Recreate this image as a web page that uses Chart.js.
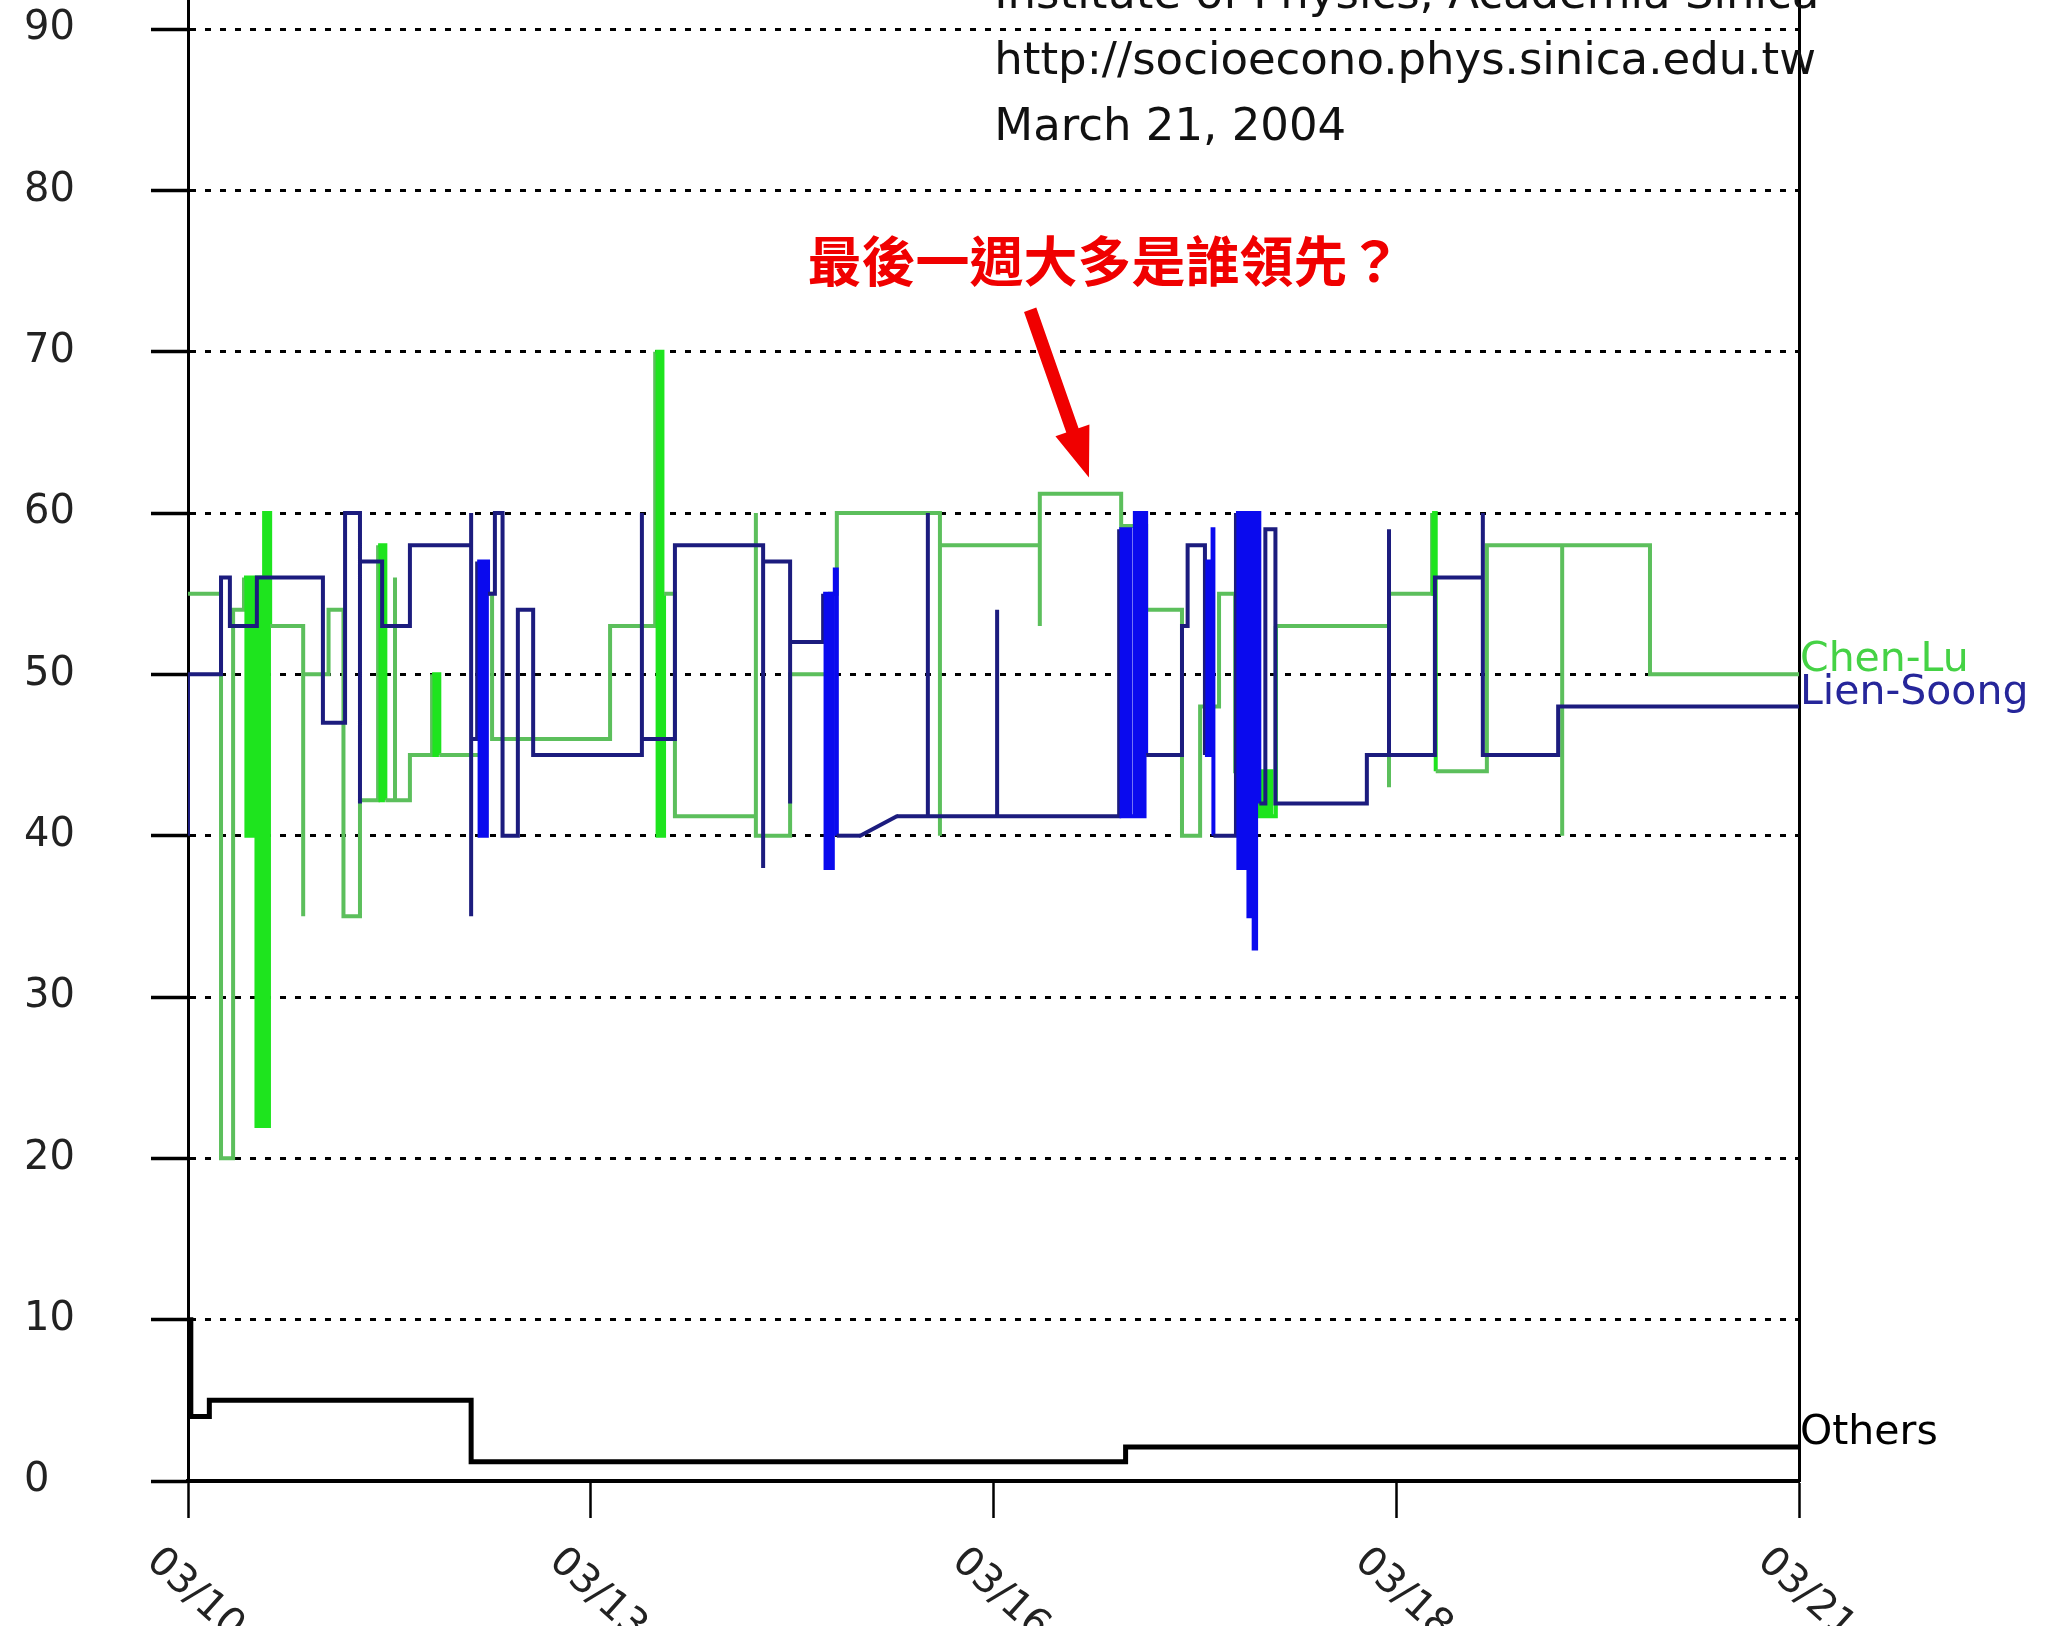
<!DOCTYPE html>
<html>
<head>
<meta charset="utf-8">
<script src="https://cdn.jsdelivr.net/npm/chart.js@4/dist/chart.umd.min.js"></script>
<style>
  html, body { margin: 0; padding: 0; background: #ffffff; overflow: hidden; }
  canvas { display: block; }
</style>
</head>
<body>
<canvas id="c" width="2052" height="1626"></canvas>
<script>
// ---------- data (x in tick-interval units: 0 = 03/10 ... 4 = 03/21) ----------
const xTickValues = [0, 1, 2, 3, 4];
const xTickLabels = ['03/10', '03/13', '03/16', '03/18', '03/21'];
const yTickValues = [0, 10, 20, 30, 40, 50, 60, 70, 80, 90];

const lienSoongX = [0, 0, 0.082, 0.104, 0.171, 0.335, 0.390, 0.427, 0.427, 0.482, 0.551,
  0.703, 0.703, 0.703, 0.718, 0.724, 0.730, 0.736, 0.742, 0.745, 0.762, 0.781, 0.819, 0.857,
  1.127, 1.127, 1.209, 1.428, 1.428, 1.495, 1.495,
  1.577, 1.583, 1.589, 1.595, 1.601, 1.606, 1.611, 1.669, 1.669, 1.760,
  1.837, 1.837, 2.009, 2.009,
  2.312, 2.318, 2.324, 2.330, 2.337, 2.340, 2.351, 2.357, 2.363, 2.369, 2.375, 2.379,
  2.468, 2.482, 2.525, 2.531, 2.538, 2.544, 2.546,
  2.602, 2.608, 2.614, 2.621, 2.627, 2.633, 2.639, 2.646, 2.652, 2.660, 2.675, 2.700,
  2.927, 2.982, 2.982, 3.096, 3.215, 3.215, 3.402, 4];
const lienSoongY = [40, 50, 56, 53, 56, 47, 60, 42, 57, 53, 58,
  60, 35, 46, 57, 40, 57, 40, 57, 55, 60, 40, 54, 45,
  60, 46, 58, 38, 57, 42, 52,
  55, 38, 55, 38, 55, 56.5, 40, 40, null, 41.2,
  60, 41.2, 54, 41.2,
  59, 41.2, 59, 41.2, 59, 41.2, 60, 41.2, 60, 41.2, 60, 45,
  53, 58, 45, 57, 45, 59, 40,
  60, 38, 60, 38, 60, 35, 60, 33, 60, 42, 59, 42,
  45, 59, 45, 56, 60, 45, 48, 48];
// short linear ramp in the Lien-Soong curve (between two polls)
const lienSoongRampX = [1.669, 1.760];
const lienSoongRampY = [40, 41.2];

const chenLuX = [0, 0.082, 0.112, 0.139, 0.145, 0.151, 0.158, 0.164, 0.170, 0.176, 0.182,
  0.189, 0.195, 0.201, 0.204, 0.286, 0.286, 0.349, 0.386, 0.427,
  0.472, 0.478, 0.484, 0.490, 0.514, 0.514, 0.551, 0.606, 0.612, 0.618, 0.624,
  0.740, 0.755, 1.048, 1.160, 1.166, 1.172, 1.178, 1.182, 1.209,
  1.410, 1.410, 1.495, 1.594, 1.611, 1.867, 1.867, 2.115, 2.115, 2.317, 2.379,
  2.468, 2.513, 2.560, 2.600, 2.649, 2.657, 2.664, 2.672, 2.679, 2.687, 2.690, 2.701,
  2.982, 2.982, 3.089, 3.092, 3.095, 3.098, 3.225, 3.412, 3.412, 3.630, 4];
const chenLuY = [55, 20, 54, 56, 40, 56, 40, 56, 22, 56, 22,
  60, 22, 60, 53, 35, 50, 54, 35, 42.2,
  58, 42.2, 58, 42.2, 56, 42.2, 45, 50, 45, 50, 45,
  55, 46, 53, 70, 40, 70, 40, 55, 41.2,
  60, 40, 50, 55, 60, 40, 58, 53, 61.2, 59.2, 54,
  40, 48, 55, 44, 41.2, 44, 41.2, 44, 41.2, 44, 41.2, 53,
  43, 55, 60, 55, 60, 44, 58, 40, 58, 50, 50];

const othersX = [0, 0.007, 0.053, 0.703, 2.328, 4];
const othersY = [10, 4, 5, 1.2, 2.1, 2.1];

const seriesNames = ['Lien-Soong', 'Chen-Lu', 'Others'];

const headerLines = ['Institute of Physics, Academia Sinica', 'http://socioecono.phys.sinica.edu.tw', 'March 21, 2004'];
const headerX = 2.002;
const headerY = [91.3, 87.2, 83.1];
const questionText = '最後一週大多是誰領先？';
const questionX = 1.538;
const questionY = 75.6;
const arrowFrom = { x: 2.091, y: 72.6 };
const arrowTo = { x: 2.237, y: 62.2 };

// ---------- styles ----------
const BLUE_THIN = '#1c1c7e';
const BLUE_DENSE = '#0a0aee';
const GREEN_THIN = '#5cbf5c';
const GREEN_DENSE = '#1ee41e';
const FONT = '"DejaVu Sans", sans-serif';
const LINE_W = 4;

function toPoints(xs, ys) { return xs.map((x, i) => ({ x: x, y: ys[i] })); }
function denseColor(thin, dense) {
  return ctx => {
    const dx = Math.abs(ctx.p1.x - ctx.p0.x);
    return (dx > 0 && dx <= 5) ? dense : thin;
  };
}

const overlay = {
  id: 'overlay',
  afterDraw(chart) {
    const { ctx, chartArea, scales } = chart;
    const xs = scales.x, ys = scales.y;
    ctx.save();

    // rotated x tick labels
    ctx.font = '40px ' + FONT;
    ctx.fillStyle = '#222';
    ctx.textAlign = 'left';
    ctx.textBaseline = 'middle';
    xTickValues.forEach((v, i) => {
      const px = xs.getPixelForValue(v);
      ctx.save();
      ctx.translate(px - 36, chartArea.bottom + 75);
      ctx.rotate(42 * Math.PI / 180);
      ctx.fillText(xTickLabels[i], 0, 0);
      ctx.restore();
    });

    // series end labels
    const labelColors = ['#26269a', '#45d245', '#000000'];
    const order = [1, 0, 2];
    ctx.font = '41px ' + FONT;
    ctx.textBaseline = 'alphabetic';
    order.forEach(di => {
      const meta = chart.getDatasetMeta(di);
      const last = meta.data[meta.data.length - 1];
      ctx.fillStyle = labelColors[di];
      ctx.fillText(seriesNames[di], chartArea.right + 1, last.y - 3);
    });

    // header text
    ctx.font = '45px ' + FONT;
    ctx.fillStyle = '#111';
    headerLines.forEach((t, i) => {
      ctx.fillText(t, xs.getPixelForValue(headerX), ys.getPixelForValue(headerY[i]));
    });

    // question annotation
    ctx.font = 'bold 54px "Noto Sans CJK TC", sans-serif';
    ctx.fillStyle = '#f00000';
    ctx.textBaseline = 'middle';
    ctx.fillText(questionText, xs.getPixelForValue(questionX), ys.getPixelForValue(questionY));

    // arrow
    const ax0 = xs.getPixelForValue(arrowFrom.x), ay0 = ys.getPixelForValue(arrowFrom.y);
    const ax1 = xs.getPixelForValue(arrowTo.x), ay1 = ys.getPixelForValue(arrowTo.y);
    const ang = Math.atan2(ay1 - ay0, ax1 - ax0);
    const len = Math.hypot(ax1 - ax0, ay1 - ay0);
    const sw = 6.5, hl = 50, hw = 18;
    ctx.translate(ax0, ay0);
    ctx.rotate(ang);
    ctx.beginPath();
    ctx.moveTo(0, -sw);
    ctx.lineTo(len - hl, -sw);
    ctx.lineTo(len - hl, -hw);
    ctx.lineTo(len, 0);
    ctx.lineTo(len - hl, hw);
    ctx.lineTo(len - hl, sw);
    ctx.lineTo(0, sw);
    ctx.closePath();
    ctx.fill();

    ctx.restore();
  }
};

new Chart(document.getElementById('c'), {
  type: 'line',
  data: {
    datasets: [
      {
        label: seriesNames[0], data: toPoints(lienSoongX, lienSoongY),
        xAxisID: 'x', yAxisID: 'y',
        borderColor: BLUE_THIN, borderWidth: LINE_W, stepped: 'before', spanGaps: false,
        segment: { borderColor: denseColor(BLUE_THIN, BLUE_DENSE) },
        pointRadius: 0, fill: false, borderJoinStyle: 'miter', borderCapStyle: 'butt'
      },
      {
        label: seriesNames[1], data: toPoints(chenLuX, chenLuY),
        xAxisID: 'x', yAxisID: 'y',
        borderColor: GREEN_THIN, borderWidth: LINE_W, stepped: 'before',
        segment: { borderColor: denseColor(GREEN_THIN, GREEN_DENSE) },
        pointRadius: 0, fill: false, borderJoinStyle: 'miter', borderCapStyle: 'butt'
      },
      {
        label: seriesNames[2], data: toPoints(othersX, othersY),
        xAxisID: 'x', yAxisID: 'y',
        borderColor: '#000000', borderWidth: 5, stepped: 'before',
        pointRadius: 0, fill: false, borderJoinStyle: 'miter', borderCapStyle: 'butt'
      },
      {
        label: seriesNames[0] + ' ramp', data: toPoints(lienSoongRampX, lienSoongRampY),
        xAxisID: 'x', yAxisID: 'y', order: -1,
        borderColor: BLUE_THIN, borderWidth: LINE_W, stepped: false,
        pointRadius: 0, fill: false, borderCapStyle: 'round'
      }
    ]
  },
  options: {
    responsive: false,
    animation: false,
    devicePixelRatio: 1,
    layout: { padding: { left: 24, top: 0, right: 0, bottom: 0 } },
    plugins: { legend: { display: false }, tooltip: { enabled: false } },
    elements: { line: { tension: 0 } },
    scales: {
      x: {
        type: 'linear', position: 'bottom', min: 0, max: 4,
        afterBuildTicks: s => { s.ticks = xTickValues.map(v => ({ value: v })); },
        afterFit: s => { s.height = 145; s.paddingLeft = 0; s.paddingRight = 0; },
        ticks: { display: false },
        grid: { display: true, drawOnChartArea: false, drawTicks: true, tickLength: 37, tickWidth: 2.5, tickColor: '#000' },
        border: { display: true, color: '#000', width: 4 }
      },
      y: {
        type: 'linear', position: 'left', min: 0, max: 91.8,
        afterBuildTicks: s => { s.ticks = yTickValues.map(v => ({ value: v })); },
        afterFit: s => { s.width = 164; s.paddingTop = 0; s.paddingBottom = 0; },
        ticks: { crossAlign: 'far', padding: 0, color: '#222', font: { family: '"DejaVu Sans"', size: 40 } },
        grid: { display: true, color: '#000', lineWidth: 3, drawTicks: true, tickLength: 37, tickWidth: 3.5, tickColor: '#000', tickBorderDash: [] },
        border: { display: true, color: '#000', width: 3, dash: [6, 9] }
      },
      yR: {
        type: 'linear', position: 'right', min: 0, max: 91.8, display: true,
        afterFit: s => { s.width = 253; s.paddingTop = 0; s.paddingBottom = 0; },
        ticks: { display: false },
        grid: { display: false },
        border: { display: true, color: '#000', width: 3 }
      }
    }
  },
  plugins: [overlay]
});
</script>
</body>
</html>
